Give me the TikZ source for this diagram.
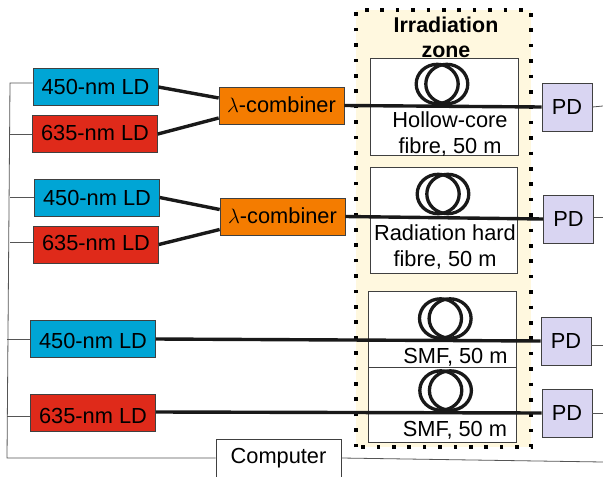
\documentclass[tikz,border=0pt]{standalone}
\usepackage{fontspec}
\setmainfont{Liberation Sans}
\definecolor{ldblue}{HTML}{00A5D5}
\definecolor{ldred}{HTML}{DF2A1A}
\definecolor{combiner}{HTML}{F47C00}
\definecolor{pdviolet}{HTML}{D9D5F2}
\definecolor{zonefill}{HTML}{FFF8DF}
\definecolor{wiregrey}{HTML}{555555}
\newcommand{\fibrecoil}[2]{%
  \draw [coilline] (#1-4.8,#2) ellipse (21 and 19.7);
  \draw [coilline] (#1+4.8,#2) ellipse (21 and 19.7);}
\tikzset{
  boxbase/.style={draw=black!75,line width=0.7pt,minimum width=125,minimum height=37,inner sep=0pt,font=\fontsize{21.8}{24}\selectfont},
  bluelaser/.style={boxbase,fill=ldblue},
  redlaser/.style={boxbase,fill=ldred},
  combinerbox/.style={boxbase,fill=combiner},
  pdbox/.style={boxbase,fill=pdviolet,minimum width=50,minimum height=48},
  computerbox/.style={boxbase,fill=white,minimum height=38},
  fibrebox/.style={draw=black!75,line width=0.7pt,fill=white,inner sep=0pt},
  fibretext/.style={inner sep=0pt,align=center,font=\fontsize{21.8}{26}\selectfont},
  coilline/.style={line width=3.3pt,black!90},
  fibrewire/.style={line width=3.4pt,black!90},
  signal/.style={line width=0.8pt,wiregrey},
}
\begin{document}
\begin{tikzpicture}[x=1pt,y=-1pt]
  \useasboundingbox (0,0) rectangle (603,477);
  \node [fill=zonefill,inner sep=0pt,minimum width=175,minimum height=437] (zone) at (443.5,228.5) {};
  \draw [line width=3.6pt,dash pattern=on 3.6pt off 11.8pt] (zone.south west) -- (zone.north west) -- (zone.north east) -- (zone.south east) -- (zone.south west);
  \node [inner sep=0pt,align=center,font=\bfseries\fontsize{21.4}{25}\selectfont] (zonetitle) at (446,37) {Irradiation\\zone};

  \node [fibrebox,minimum width=148,minimum height=97] (hollowbox) at (444,106.5) {};
  \node [fibrebox,minimum width=147,minimum height=106] (hardbox) at (443.5,220) {};
  \node [fibrebox,minimum width=148,minimum height=76] (smfboxa) at (442,329) {};
  \node [fibrebox,minimum width=148,minimum height=75] (smfboxb) at (442,404.5) {};

  \fibrecoil{442}{84}
  \fibrecoil{443}{194}
  \fibrecoil{445.3}{318.5}
  \fibrecoil{445.6}{390.5}

  \node [fibretext] (hollowtext) at (450,134) {Hollow-core\\fibre, 50 m};
  \node [fibretext] (hardtext) at (445,246.5) {Radiation hard\\fibre, 50 m};
  \node [fibretext] (smftexta) at (455.5,357) {SMF, 50 m};
  \node [fibretext] (smftextb) at (455,430) {SMF, 50 m};

  \node [bluelaser] (bluea) at (95.5,87) {450-nm LD};
  \node [redlaser,text depth=3pt] (reda) at (95,134) {635-nm LD};
  \node [bluelaser] (blueb) at (97,197.5) {450-nm LD};
  \node [redlaser,text depth=3pt] (redb) at (96,244.5) {635-nm LD};
  \node [bluelaser,text height=18.6pt] (bluec) at (93,339) {450-nm LD};
  \node [redlaser,text height=21.6pt] (redc) at (93,413) {635-nm LD};
  \node [combinerbox,text depth=2pt] (comba) at (281.5,105.5) {$\lambda$-combiner};
  \node [combinerbox,text depth=2pt] (combb) at (282.5,216.5) {$\lambda$-combiner};
  \node [computerbox] (computer) at (278.5,458) {Computer};
  \node [pdbox] (pda) at (567,107) {PD};
  \node [pdbox] (pdb) at (568.5,219) {PD};
  \node [pdbox] (pdc) at (566,341) {PD};
  \node [pdbox] (pdd) at (567,413) {PD};

  \draw [fibrewire] (bluea.east) -- ([yshift=7.5pt]comba.west);
  \draw [fibrewire] (reda.east) -- ([yshift=-12.5pt]comba.west);
  \draw [fibrewire] (blueb.east) -- ([yshift=7pt]combb.west);
  \draw [fibrewire] (redb.east) -- ([yshift=-13pt]combb.west);
  \draw [fibrewire] (comba.east) -- (pda.west);
  \draw [fibrewire] (combb.east) -- (pdb.west);
  \draw [fibrewire] (bluec.east) -- (pdc.west);
  \draw [fibrewire] ([yshift=1pt]redc.east) -- (pdd.west);

  \coordinate (bustop) at (10,83);
  \coordinate (buscorner) at (7,458);
  \coordinate (pdoutleta) at (603,106);
  \coordinate (pdoutletb) at (603,217);
  \coordinate (pdoutletc) at (603,345);
  \coordinate (pdoutletd) at (603,413);
  \coordinate (computerout) at (603,462);
  \draw [signal] (bluea.west |- bustop) -- (bustop) -- (buscorner) -- (computer.west);
  \draw [signal] (reda.west) -- (reda.west -| bustop);
  \draw [signal] (blueb.west) -- (blueb.west -| bustop);
  \draw [signal] ([yshift=2pt]redb.west) -- ([yshift=2pt]redb.west -| bustop);
  \draw [signal] (bluec.west) -- (bluec.west -| buscorner);
  \draw [signal] ([yshift=-3pt]redc.west) -- ([yshift=-3pt]redc.west -| buscorner);
  \draw [signal] (computer.east) -- (computerout);
  \draw [signal] (pda.east) -- (pdoutleta);
  \draw [signal] ([yshift=2pt]pdb.east) -- (pdoutletb);
  \draw [signal] ([yshift=-4pt]pdc.east) -- (pdoutletc);
  \draw [signal] (pdd.east) -- (pdoutletd);
\end{tikzpicture}
\end{document}
